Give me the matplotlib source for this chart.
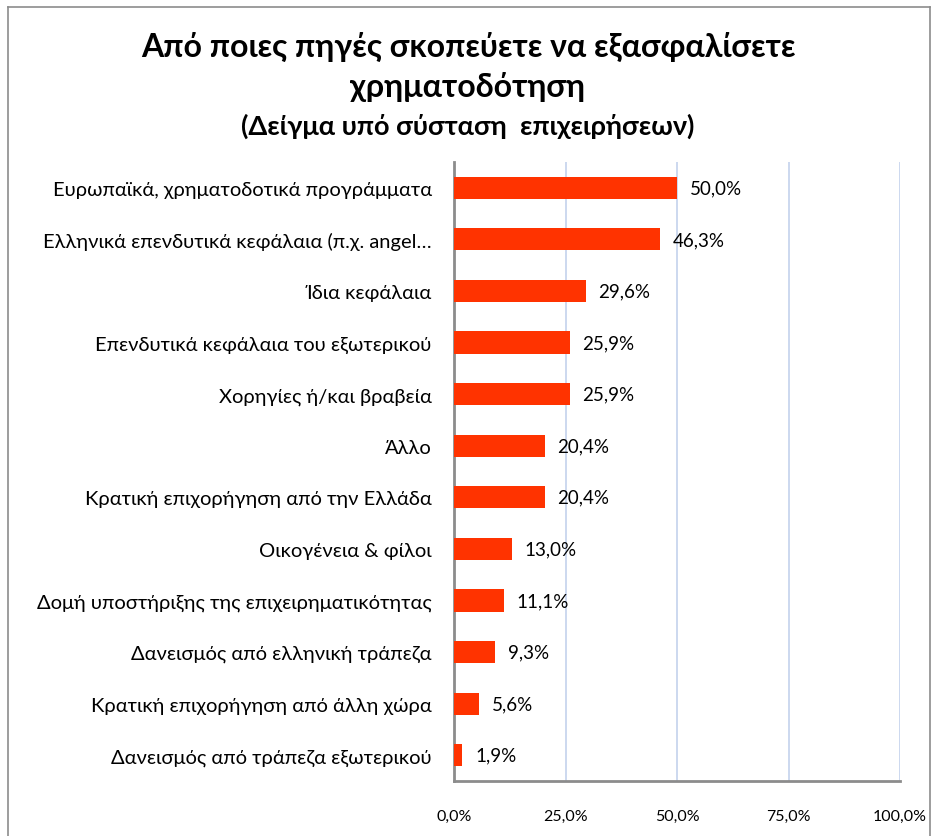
import matplotlib
matplotlib.use('Agg')
import matplotlib.pyplot as plt
from matplotlib.lines import Line2D

plt.rcParams['font.family'] = ['Lato', 'Open Sans', 'DejaVu Sans']

categories = [
    'Ευρωπαϊκά, χρηματοδοτικά προγράμματα',
    'Ελληνικά επενδυτικά κεφάλαια (π.χ. angel…',
    'Ίδια κεφάλαια',
    'Επενδυτικά κεφάλαια του εξωτερικού',
    'Χορηγίες ή/και βραβεία',
    'Άλλο',
    'Κρατική επιχορήγηση από την Ελλάδα',
    'Οικογένεια & φίλοι',
    'Δομή υποστήριξης της επιχειρηματικότητας',
    'Δανεισμός από ελληνική τράπεζα',
    'Κρατική επιχορήγηση από άλλη χώρα',
    'Δανεισμός από τράπεζα εξωτερικού',
]
values = [50.0, 46.3, 29.6, 25.9, 25.9, 20.4, 20.4, 13.0, 11.1, 9.3, 5.6, 1.9]
xticks = [0, 25, 50, 75, 100]

BAR_COLOR = '#ff3300'
GRID_COLOR = '#c3d2ec'

fig = plt.figure(figsize=(9.36, 8.37), dpi=100)
ax = fig.add_axes([454 / 936, 1 - 782 / 837, (900 - 454) / 936, (782 - 163) / 837])

ypos = list(range(len(categories)))
ax.barh(ypos, values, height=0.43, color=BAR_COLOR, zorder=3)
for y, v in zip(ypos, values):
    ax.annotate(f"{v:.1f}%".replace('.', ','), (v, y), xytext=(9, 0),
                textcoords='offset points', va='center', ha='left', fontsize=13.5)

ax.set_xlim(0, 100)
ax.set_ylim(len(categories) - 0.5, -0.5)
ax.set_yticks(ypos)
ax.set_yticklabels(categories, fontsize=14.5)
ax.set_xticks(xticks)
ax.set_xticklabels([f"{t:.1f}%".replace('.', ',') for t in xticks], fontsize=11.5)
ax.tick_params(axis='both', length=0)
ax.tick_params(axis='y', pad=16)
ax.tick_params(axis='x', pad=20)

for t in xticks[1:]:
    ax.axvline(t, color=GRID_COLOR, lw=1.2, zorder=1)
for side in ['top', 'right']:
    ax.spines[side].set_visible(False)
for side in ['left', 'bottom']:
    ax.spines[side].set_color('#8c8c8c')
    ax.spines[side].set_linewidth(2)

fig.text(0.5, 1 - 47 / 837, 'Από ποιες πηγές σκοπεύετε να εξασφαλίσετε',
         ha='center', va='center', fontsize=23, fontweight='bold')
fig.text(0.5, 1 - 87 / 837, 'χρηματοδότηση',
         ha='center', va='center', fontsize=23, fontweight='bold')
fig.text(0.5, 1 - 126 / 837, '(Δείγμα υπό σύσταση  επιχειρήσεων)',
         ha='center', va='center', fontsize=19.5, fontweight='bold')

# outer chart frame
x0, x1, ytop = 8 / 936, 930 / 936, 1 - 8 / 837
for xs, ys in [([x0, x0], [0, ytop]), ([x1, x1], [0, ytop]), ([x0, x1], [ytop, ytop])]:
    fig.add_artist(Line2D(xs, ys, color='#8c8c8c', lw=1.2, transform=fig.transFigure))

fig.savefig('out.png', dpi=100)
